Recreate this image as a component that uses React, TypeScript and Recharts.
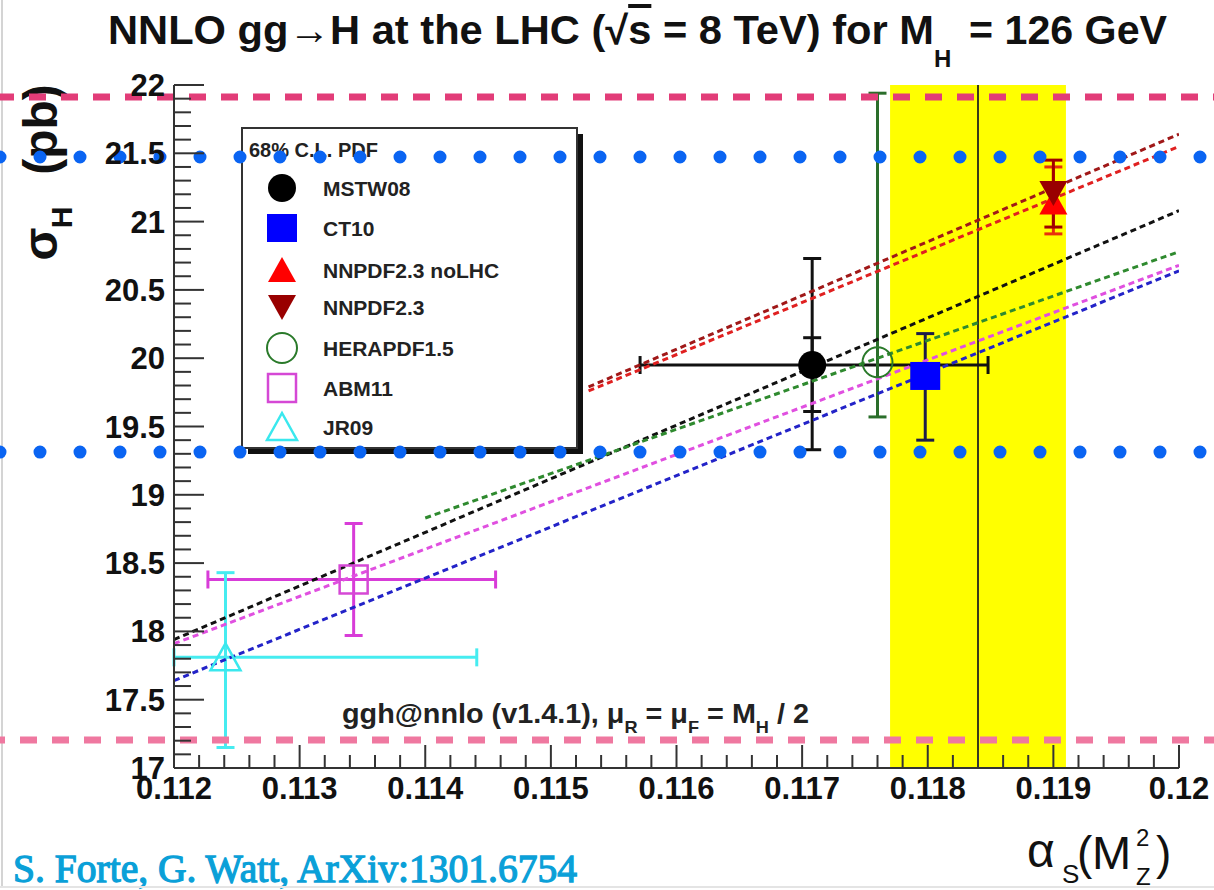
import React from 'react';
import {
  ComposedChart, XAxis, YAxis, Scatter, Line, ErrorBar,
  ReferenceArea, ReferenceLine,
} from 'recharts';

// PDF sets, central values
const pdfSets = ['MSTW08', 'CT10', 'NNPDF2.3 noLHC', 'NNPDF2.3', 'HERAPDF1.5', 'ABM11', 'JR09'];
const alphaS = [0.11708, 0.11798, 0.119, 0.119, 0.1176, 0.11343, 0.11241];
const sigmaH = [19.95, 19.87, 21.14, 21.21, 19.97, 18.38, 17.81];
const sigmaLow = [19.33, 19.4, 20.91, 20.96, 19.57, 17.97, 17.15];
const sigmaHigh = [20.73, 20.18, 21.4, 21.45, 21.94, 18.79, 18.43];
// JR09 lower alpha_s error runs off the frame, kept at the frame edge
const alphaLow = [0.11571, null, null, null, null, 0.11227, 0.112];
const alphaHigh = [0.11848, null, null, null, null, 0.11456, 0.11441];
// MSTW08 inner (PDF only) band
const mstwInner = [19.61, 20.15];

// sigma vs alpha_s dependence (dashed lines), end points
const fitSets = ['MSTW08', 'CT10', 'NNPDF2.3 noLHC', 'NNPDF2.3', 'HERAPDF1.5', 'ABM11'];
const fitAlphaFrom = [0.112, 0.112, 0.1153, 0.1153, 0.114, 0.112];
const fitSigmaFrom = [17.94, 17.64, 19.76, 19.79, 18.83, 17.91];
const fitAlphaTo = [0.12, 0.12, 0.12, 0.12, 0.12, 0.12];
const fitSigmaTo = [21.08, 20.64, 21.55, 21.64, 20.78, 20.68];

// PDG 2012 alpha_s
const pdgAlpha = 0.1184;
const pdgErr = 0.0007;

// axis ticks
const xMajorTicks = [0.112, 0.113, 0.114, 0.115, 0.116, 0.117, 0.118, 0.119, 0.12];
const xMinorStep = 0.0002;
const yMajorTicks = [17, 17.5, 18, 18.5, 19, 19.5, 20, 20.5, 21, 21.5, 22];
const yMinorStep = 0.1;

// overlay guide levels (in pb)
const dashedLevels = [21.912, 17.205];
const dottedLevels = [21.473, 19.313];

const xTicks: number[] = [];
for (let i = 0; i <= 40; i++) xTicks.push(Math.round((0.112 + i * xMinorStep) * 1e5) / 1e5);
const yTicks: number[] = [];
for (let i = 0; i <= 50; i++) yTicks.push(Math.round((17 + i * yMinorStep) * 100) / 100);

const SANS = '"Liberation Sans", Arial, Helvetica, sans-serif';
const FRAME = '#333';

const isMajor = (v: number, majors: number[]) => majors.some((m) => Math.abs(m - v) < 1e-7);
const fmt = (v: number) => String(parseFloat(v.toFixed(4)));

const markerColors = ['#000000', '#0000ff', '#ff0000', '#990000', '#2a7a2a', '#d548d5', '#3ae8ee'];
const barColors = ['#111111', '#1c1c48', '#e8300c', '#a00000', '#2a6e2a', '#d83cd8', '#46ecf0'];
const lineColors = ['#111111', '#2323c8', '#e02020', '#a01818', '#2f8a2f', '#e050e0'];

function marker(i: number, cx: number, cy: number) {
  const c = markerColors[i];
  switch (i) {
    case 0:
      return <circle cx={cx} cy={cy} r={14} fill={c} />;
    case 1:
      return <rect x={cx - 15} y={cy - 14} width={30} height={28} fill={c} />;
    case 2:
      return <path d={`M${cx},${cy - 13} L${cx + 14},${cy + 12} L${cx - 14},${cy + 12} Z`} fill={c} />;
    case 3:
      return <path d={`M${cx - 14},${cy - 12} L${cx + 14},${cy - 12} L${cx},${cy + 13} Z`} fill={c} />;
    case 4:
      return <circle cx={cx} cy={cy} r={15} fill="none" stroke={c} strokeWidth={2} />;
    case 5:
      return <rect x={cx - 14} y={cy - 14} width={28} height={28} fill="none" stroke={c} strokeWidth={2.5} />;
    default:
      return <path d={`M${cx},${cy - 14} L${cx + 15},${cy + 13} L${cx - 15},${cy + 13} Z`} fill="none" stroke={c} strokeWidth={2.5} />;
  }
}

const pointData = pdfSets.map((name, i) => [{
  name,
  x: alphaS[i],
  y: sigmaH[i],
  ey: [sigmaH[i] - sigmaLow[i], sigmaHigh[i] - sigmaH[i]],
  ex: alphaLow[i] == null ? null : [alphaS[i] - (alphaLow[i] as number), (alphaHigh[i] as number) - alphaS[i]],
  ein: i === 0 ? [sigmaH[i] - mstwInner[0], mstwInner[1] - sigmaH[i]] : null,
}]);

const fitData = fitSets.map((_, i) => [
  { x: fitAlphaFrom[i], y: fitSigmaFrom[i] },
  { x: fitAlphaTo[i], y: fitSigmaTo[i] },
]);

const BottomTick = (p: any) => {
  const { x, y, payload } = p;
  const major = isMajor(payload.value, xMajorTicks);
  return (
    <g>
      <line x1={x} x2={x} y1={y} y2={y - (major ? 23 : 13)} stroke={FRAME} strokeWidth={2} />
      {major && (
        <text x={x} y={y + 31} textAnchor="middle" fontFamily={SANS} fontWeight="bold" fontSize={31} fill="#111">
          {fmt(payload.value)}
        </text>
      )}
    </g>
  );
};

const TopTick = (p: any) => {
  const { x, y, payload } = p;
  const major = isMajor(payload.value, xMajorTicks);
  return <line x1={x} x2={x} y1={y} y2={y + (major ? 14 : 8)} stroke={FRAME} strokeWidth={2} />;
};

const LeftTick = (p: any) => {
  const { x, y, payload } = p;
  const major = isMajor(payload.value, yMajorTicks);
  return (
    <g>
      <line x1={x} x2={x + (major ? 30 : 17)} y1={y} y2={y} stroke={FRAME} strokeWidth={2} />
      {major && (
        <text x={x - 9} y={y + 11} textAnchor="end" fontFamily={SANS} fontWeight="bold" fontSize={31} fill="#111">
          {fmt(payload.value)}
        </text>
      )}
    </g>
  );
};

const RightTick = (p: any) => {
  const { x, y, payload } = p;
  const major = isMajor(payload.value, yMajorTicks);
  return <line x1={x} x2={x - (major ? 32 : 17)} y1={y} y2={y} stroke={FRAME} strokeWidth={2} />;
};

const legendRows = [188, 228, 270, 307, 348, 388, 427];

function LegendBox() {
  return (
    <g fontFamily={SANS} fontWeight="bold">
      <rect x={248} y={134} width={335} height={320} fill="#111" />
      <rect x={242} y={128} width={335} height={320} fill="#fff" stroke={FRAME} strokeWidth={2} />
      <text x={249} y={157} fontSize={20} fill="#222">68% C.L. PDF</text>
      {pdfSets.map((name, i) => (
        <g key={name}>
          {marker(i, 282, legendRows[i])}
          <text x={323} y={legendRows[i] + 8} fontSize={21} fill="#222">{name}</text>
        </g>
      ))}
    </g>
  );
}

function Labels() {
  return (
    <g fontFamily={SANS} fill="#111">
      <text x={108} y={44} fontSize={40} fontWeight="bold" textLength={826} lengthAdjust="spacingAndGlyphs">
        NNLO gg→H at the LHC (√<tspan style={{ textDecoration: 'overline' }}>s</tspan> = 8 TeV) for M
      </text>
      <text x={934} y={67} fontSize={24} fontWeight="bold">H</text>
      <text x={969} y={44} fontSize={40} fontWeight="bold" textLength={198} lengthAdjust="spacingAndGlyphs">
        = 126 GeV
      </text>

      <text transform="translate(57,129.5) rotate(-90)" textAnchor="middle" fontSize={48} fontWeight="bold">(pb)</text>
      <text transform="translate(57,244) rotate(-90)" textAnchor="middle" fontSize={48} fontWeight="bold">σ</text>
      <text transform="translate(72,217.5) rotate(-90)" textAnchor="middle" fontSize={30} fontWeight="bold">H</text>

      <text x={1027} y={867} fontSize={48}>α</text>
      <text x={1062} y={883} fontSize={26}>S</text>
      <text x={1077} y={869} fontSize={46}>(</text>
      <text x={1092} y={869} fontSize={47}>M</text>
      <text x={1136} y={846} fontSize={24}>2</text>
      <text x={1136} y={885} fontSize={24}>Z</text>
      <text x={1156} y={869} fontSize={46}>)</text>

      <text x={342} y={723} fontSize={27} fontWeight="bold" fill="#222" textLength={467} lengthAdjust="spacingAndGlyphs">
        ggh@nnlo (v1.4.1), μ<tspan fontSize={17} dy={10}>R</tspan>
        <tspan dy={-10}> = μ</tspan><tspan fontSize={17} dy={10}>F</tspan>
        <tspan dy={-10}> = M</tspan><tspan fontSize={17} dy={10}>H</tspan>
        <tspan dy={-10}> / 2</tspan>
      </text>

      <text x={1022} y={662} textAnchor="middle" fontSize={24} fontWeight="bold" textLength={61} lengthAdjust="spacingAndGlyphs">PDG</text>
      <text x={1022} y={693} textAnchor="middle" fontSize={24} fontWeight="bold" textLength={62} lengthAdjust="spacingAndGlyphs">2012</text>

      <text x={13} y={882} fontSize={40} fontFamily='"Liberation Serif", "Times New Roman", serif'
        fill="#0aa0d8" stroke="#0aa0d8" strokeWidth={1.3} textLength={564} lengthAdjust="spacingAndGlyphs">
        S. Forte, G. Watt, ArXiv:1301.6754
      </text>
      <line x1={2} x2={2} y1={0} y2={886} stroke="#d4d4d4" strokeWidth={2} />
      <line x1={0} x2={1214} y1={887} y2={887} stroke="#e4e4e4" strokeWidth={2} />
    </g>
  );
}

export default function App() {
  return (
    <div style={{ position: 'absolute', left: 0, top: 0, width: 1214, height: 890, background: '#fff' }}>
      <ComposedChart width={1214} height={890} margin={{ top: 85, right: 35, bottom: 82, left: 114 }}>
        <ReferenceArea x1={pdgAlpha - pdgErr} x2={pdgAlpha + pdgErr} y1={17} y2={22} fill="#ffff00" fillOpacity={1} stroke="none" />
        <ReferenceLine x={pdgAlpha} stroke="#3a3a18" strokeWidth={2} />

        <XAxis
          type="number" dataKey="x" domain={[0.112, 0.12]} allowDataOverflow
          ticks={xTicks} interval={0} tickSize={0} tickMargin={0} height={40}
          tick={BottomTick} tickLine={false} axisLine={{ stroke: FRAME, strokeWidth: 2 }}
        />
        <XAxis
          xAxisId="top" orientation="top" type="number" dataKey="x" domain={[0.112, 0.12]} allowDataOverflow
          ticks={xTicks} interval={0} tickSize={0} tickMargin={0} height={0}
          tick={TopTick} tickLine={false} axisLine={{ stroke: FRAME, strokeWidth: 2 }}
        />
        <YAxis
          type="number" dataKey="y" domain={[17, 22]} allowDataOverflow
          ticks={yTicks} interval={0} tickSize={0} tickMargin={0} width={60}
          tick={LeftTick} tickLine={false} axisLine={{ stroke: FRAME, strokeWidth: 2 }}
        />
        <YAxis
          yAxisId="right" orientation="right" type="number" dataKey="y" domain={[17, 22]} allowDataOverflow
          ticks={yTicks} interval={0} tickSize={0} tickMargin={0} width={0}
          tick={RightTick} tickLine={false} axisLine={{ stroke: FRAME, strokeWidth: 2 }}
        />

        {pointData.map((d, i) => (
          <Scatter
            key={pdfSets[i]}
            name={pdfSets[i]}
            data={d}
            isAnimationActive={false}
            shape={(p: any) => marker(i, p.cx, p.cy)}
          >
            <ErrorBar dataKey="ey" direction="y" width={9} stroke={barColors[i]} strokeWidth={3} isAnimationActive={false} />
            {d[0].ex && (
              <ErrorBar dataKey="ex" direction="x" width={9} stroke={barColors[i]} strokeWidth={3} isAnimationActive={false} />
            )}
            {d[0].ein && (
              <ErrorBar dataKey="ein" direction="y" width={9} stroke={barColors[i]} strokeWidth={3} isAnimationActive={false} />
            )}
          </Scatter>
        ))}

        {fitData.map((d, i) => (
          <Line
            key={fitSets[i]}
            data={d}
            dataKey="y"
            type="linear"
            stroke={lineColors[i]}
            strokeWidth={3}
            strokeDasharray="6 4"
            dot={false}
            activeDot={false}
            isAnimationActive={false}
          />
        ))}

        <LegendBox />
        <Labels />

        {dashedLevels.map((lv, i) => (
          <ReferenceLine
            key={`d${i}`}
            y={lv}
            shape={(p: any) => (
              <line x1={0} x2={1214} y1={p.y1} y2={p.y1}
                stroke={i === 0 ? '#e23c78' : '#ef78a0'} strokeWidth={7}
                strokeDasharray="17 15" strokeDashoffset={i === 0 ? 3 : 12} />
            )}
          />
        ))}
        {dottedLevels.map((lv, i) => (
          <ReferenceLine
            key={`b${i}`}
            y={lv}
            shape={(p: any) => (
              <line x1={0} x2={1214} y1={p.y1} y2={p.y1}
                stroke="#0a64f2" strokeWidth={13} strokeLinecap="round" strokeDasharray="0 40" />
            )}
          />
        ))}
      </ComposedChart>
    </div>
  );
}
